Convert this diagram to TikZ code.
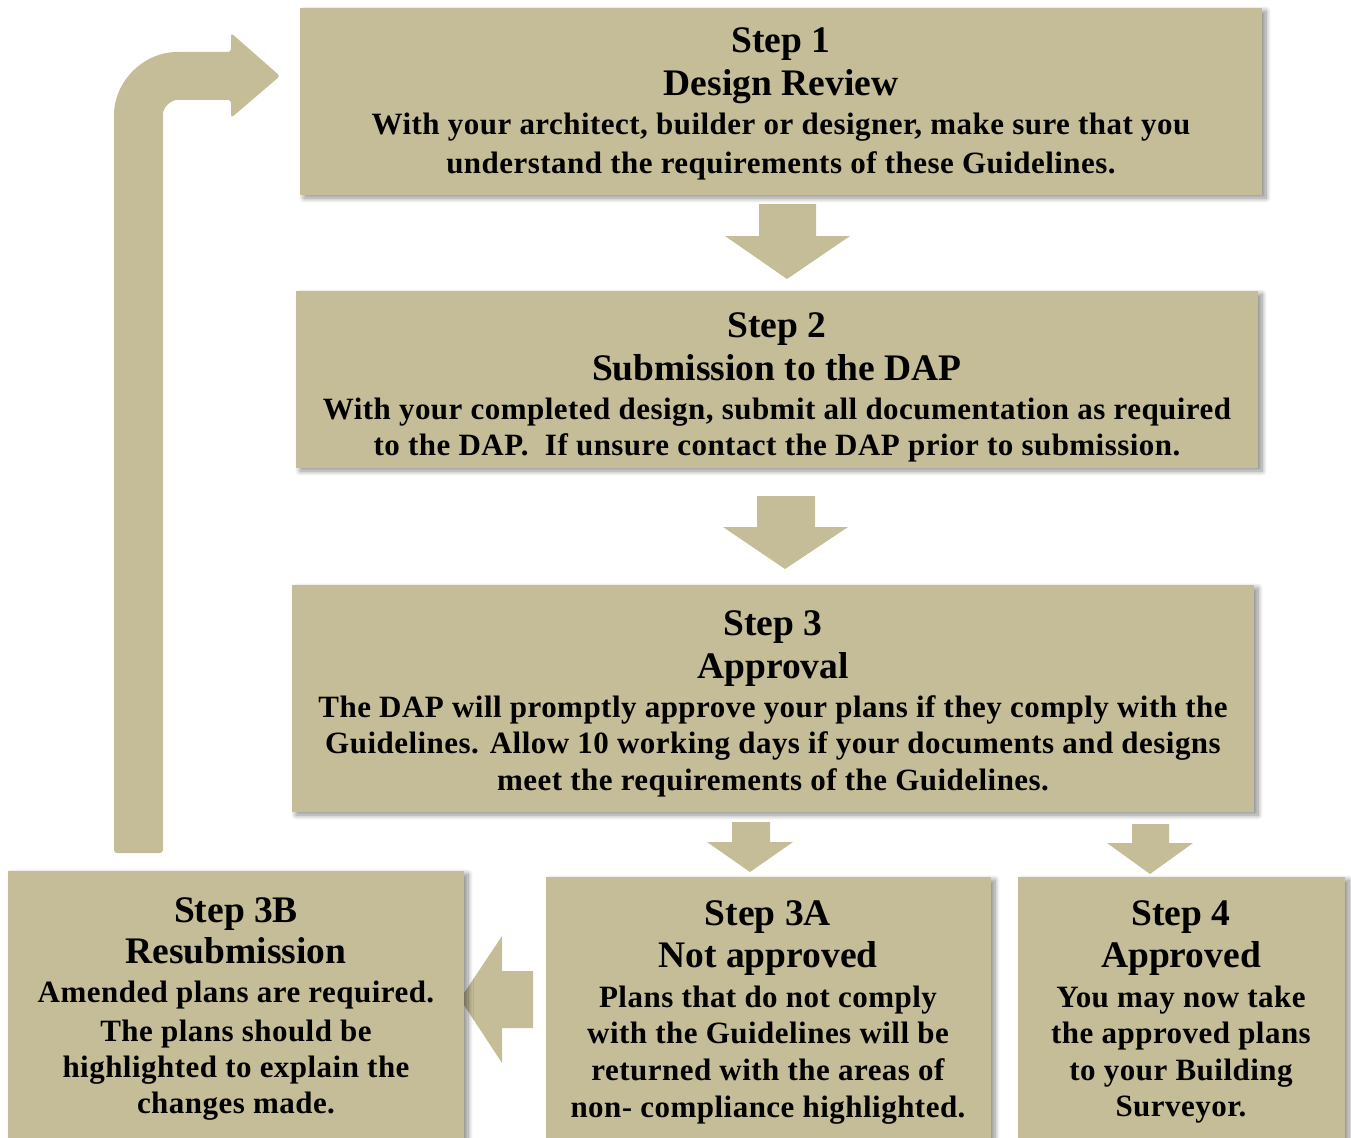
\documentclass[tikz,border=0pt]{standalone}
\usepackage{fontspec}
\setmainfont{Liberation Serif}
\usetikzlibrary{shadows.blur}
\definecolor{tanfill}{RGB}{196,189,151}
\tikzset{
  box/.style={fill=tanfill, draw=none, anchor=north west, inner sep=0pt, outer sep=0pt,
    blur shadow={shadow xshift=4pt, shadow yshift=-3pt, shadow blur radius=5pt, shadow blur steps=10, shadow opacity=45}},
  ttl/.style={anchor=base, inner sep=0pt, font=\fontsize{37.5}{43}\selectfont\bfseries},
  bod/.style={anchor=base, inner sep=0pt, font=\fontsize{31}{37}\selectfont\bfseries\addfontfeature{LetterSpace=1.5}},
  blk/.style={fill=tanfill, draw=none},
}
\begin{document}
\begin{tikzpicture}[x=1pt, y=-1pt]
\useasboundingbox (0,0) rectangle (1351,1137);
% block arrows (drawn beneath the boxes)
\path[blk, rounded corners=3pt] (114,853) -- (114,118) arc(180:270:66) -- (231,52) -- (231,33) -- (280,76) -- (231,118) -- (231,100) -- (180,100) arc(270:180:17) -- (163,853) -- cycle;
\path[blk] (759,204) -- (816,204) -- (816,236) -- (850,236) -- (787,279) -- (725,236) -- (759,236) -- cycle;
\path[blk] (757,496) -- (815,496) -- (815,527) -- (848,527) -- (785,569) -- (723,527) -- (757,527) -- cycle;
\path[blk] (732,822) -- (770,822) -- (770,842) -- (793,842) -- (750,872) -- (707,842) -- (732,842) -- cycle;
\path[blk] (1132,824) -- (1169,824) -- (1169,843) -- (1193,843) -- (1150,874) -- (1107,843) -- (1132,843) -- cycle;
\path[blk] (533,971) -- (533,1028) -- (502,1028) -- (502,1063) -- (460,999) -- (502,936) -- (502,971) -- cycle;
% boxes
\node[box, minimum width=962pt, minimum height=187pt] (b1) at (300,8) {};
\node[box, minimum width=962pt, minimum height=177pt] (b2) at (296,291) {};
\node[box, minimum width=962pt, minimum height=227pt] (b3) at (292,585) {};
\node[box, minimum width=456pt, minimum height=290pt] (b3b) at (8,871) {};
\node[box, minimum width=445pt, minimum height=290pt] (b3a) at (546,877) {};
\node[box, minimum width=327pt, minimum height=290pt] (b4) at (1018,877) {};
% Step 1
\node[ttl] (t1a) at (781,53) {Step 1};
\node[ttl] (t1b) at (781,96) {Design Review};
\node[bod] (t1c) at (781,135) {With your architect, builder or designer, make sure that you};
\node[bod] (t1d) at (781,173) {understand the requirements of these Guidelines.};
% Step 2
\node[ttl] (t2a) at (777,337) {Step 2};
\node[ttl] (t2b) at (777,380) {Submission to the DAP};
\node[bod] (t2c) at (777,419) {With your completed design, submit all documentation as required};
\node[bod] (t2d) at (777,455) {to the DAP.\ \ If unsure contact the DAP prior to submission.};
% Step 3
\node[ttl] (t3a) at (773,635) {Step 3};
\node[ttl] (t3b) at (773,678) {Approval};
\node[bod] (t3c) at (773,717) {The DAP will promptly approve your plans if they comply with the};
\node[bod] (t3d) at (773,753) {Guidelines. Allow 10 working days if your documents and designs};
\node[bod] (t3e) at (773,790) {meet the requirements of the Guidelines.};
% Step 3B
\node[ttl] (t3ba) at (236,922) {Step 3B};
\node[ttl] (t3bb) at (236,963) {Resubmission};
\node[bod] (t3bc) at (236,1002) {Amended plans are required.};
\node[bod] (t3bd) at (236,1041) {The plans should be};
\node[bod] (t3be) at (236,1077) {highlighted to explain the};
\node[bod] (t3bf) at (236,1113) {changes made.};
% Step 3A
\node[ttl] (t3aa) at (768,925) {Step 3A};
\node[ttl] (t3ab) at (768,967) {Not approved};
\node[bod] (t3ac) at (768,1007) {Plans that do not comply};
\node[bod] (t3ad) at (768,1043) {with the Guidelines will be};
\node[bod] (t3ae) at (768,1080) {returned with the areas of};
\node[bod] (t3af) at (768,1117) {non- compliance highlighted.};
% Step 4
\node[ttl] (t4a) at (1181,925) {Step 4};
\node[ttl] (t4b) at (1181,967) {Approved};
\node[bod] (t4c) at (1181,1007) {You may now take};
\node[bod] (t4d) at (1181,1043) {the approved plans};
\node[bod] (t4e) at (1181,1080) {to your Building};
\node[bod] (t4f) at (1181,1116) {Surveyor.};
\end{tikzpicture}
\end{document}
